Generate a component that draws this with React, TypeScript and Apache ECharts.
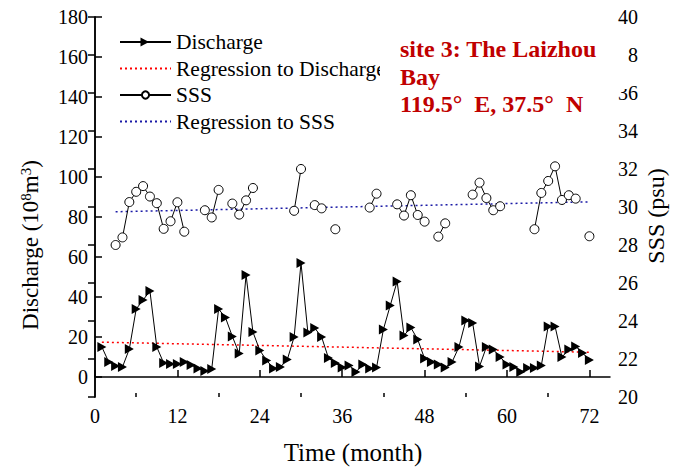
import React, { useEffect, useRef } from "react";
import * as echarts from "echarts";

const months = Array.from({ length: 72 }, (_, i) => i + 1);

const discharge = [
  15, 7.5, 5.5, 5, 14, 34, 38.5, 43, 15, 7, 6.5, 6.5, 7.5, 6, 4.2, 3, 4, 34,
  29.7, 20.3, 11.7, 51, 22.5, 13.3, 8.3, 4.3, 5, 8.7, 20, 57, 22.3, 24.5, 20,
  9.5, 7, 4.7, 5.8, 2.5, 6.3, 4.3, 4.7, 23.8, 35.8, 47.8, 20.8, 24.7, 18.7, 9.2,
  7.5, 6.3, 4.7, 7.5, 15, 28.3, 27, 5.3, 15, 13.7, 10, 6.2, 5, 2.5, 4.5, 4.5,
  5.8, 25.3, 25.3, 10, 13.7, 15.3, 12, 8.5,
];

const sss: (number | null)[] = [
  null, null, 28.0, 28.4, 30.26, 30.8, 31.1, 30.55, 30.2, 28.85, 29.25, 30.25,
  28.7, null, null, 29.83, 29.45, 30.9, null, 30.18, 29.6, 30.35, 31.0, null,
  null, null, null, null, 29.8, 32.0, null, 30.1, 29.93, null, 28.83, null,
  null, null, null, 29.97, 30.7, null, null, 30.14, 29.55, 30.62, 29.58, 29.23,
  null, 28.44, 29.14, null, null, null, 30.65, 31.28, 30.47, 29.83, 30.04, null,
  null, null, null, 28.83, 30.74, 31.37, 32.14, 30.37, 30.62, 30.44, null, 28.46,
];

const dischargeFit = [
  [1, 17.4],
  [72, 12.4],
];
const sssFit = [
  [3, 29.75],
  [72, 30.27],
];

const xTicks = [0, 12, 24, 36, 48, 60, 72];
const xMinorTicks = [6, 18, 30, 42, 54, 66];
const leftTicks = [0, 20, 40, 60, 80, 100, 120, 140, 160, 180];

const seriesNames = ["Discharge", "Regression to Discharge", "SSS", "Regression to SSS"];
const titleLines = ["site 3: The Laizhou", "Bay", "119.5°  E, 37.5°  N"];

const FAMILY = "Liberation Serif";
const RIGHT_TRIANGLE = "path://M0,0L9,5L0,10Z";

export default function App() {
  const ref = useRef<HTMLDivElement>(null);

  useEffect(() => {
    document.body.style.margin = "0";
    const chart = echarts.init(ref.current!, null, { renderer: "svg" });
    const axisColor = "#000";
    const lineW = 1.5;
    const labelStyle = {
      color: "#000",
      fontFamily: FAMILY,
      fontSize: 20,
    };

    // legend geometry (used for the triangle glyph inside the first legend icon)
    const legendLeft = 114;
    const legendTop = 26;
    const legendPad = 5;
    const legendItemW = 51;
    const legendRowH = 22;
    const triCx = legendLeft + legendPad + legendItemW / 2;
    const triCy = legendTop + legendPad + legendRowH / 2;

    const option: any = {
      animation: false,
      backgroundColor: "#fff",
      textStyle: { fontFamily: FAMILY, color: "#000" },
      grid: { left: 95, right: 67, top: 17, bottom: 71, containLabel: false },
      legend: {
        data: [
          { name: seriesNames[0], itemStyle: { opacity: 0 } },
          { name: seriesNames[1], itemStyle: { opacity: 0 } },
          { name: seriesNames[2] },
          { name: seriesNames[3], itemStyle: { opacity: 0 } },
        ],
        orient: "vertical",
        left: legendLeft,
        top: legendTop,
        padding: legendPad,
        itemWidth: legendItemW,
        itemHeight: 9,
        itemGap: 4.5,
        textStyle: { fontFamily: FAMILY, fontSize: 21.5, color: "#000", lineHeight: legendRowH },
        selectedMode: false,
      },
      xAxis: [
        {
          type: "value",
          min: 0,
          max: 75,
          axisLine: { show: true, lineStyle: { color: axisColor, width: lineW } },
          axisTick: {
            show: true,
            inside: true,
            length: 7,
            customValues: xTicks,
            lineStyle: { color: axisColor, width: lineW },
          },
          axisLabel: { ...labelStyle, customValues: xTicks, margin: 9 },
          splitLine: { show: false },
        },
        {
          type: "value",
          min: 0,
          max: 75,
          position: "bottom",
          axisLine: { show: false },
          axisTick: {
            show: true,
            inside: true,
            length: 4,
            customValues: xMinorTicks,
            lineStyle: { color: axisColor, width: lineW },
          },
          axisLabel: { show: false },
          splitLine: { show: false },
        },
      ],
      yAxis: [
        {
          type: "value",
          min: -10,
          max: 180,
          position: "left",
          axisLine: { show: true, lineStyle: { color: axisColor, width: lineW } },
          axisTick: {
            show: true,
            inside: true,
            length: 7,
            customValues: leftTicks,
            lineStyle: { color: axisColor, width: lineW },
          },
          axisLabel: { ...labelStyle, customValues: leftTicks, margin: 7 },
          splitLine: { show: false },
        },
        {
          type: "value",
          min: 20,
          max: 40,
          interval: 2,
          position: "right",
          axisLine: { show: true, lineStyle: { color: axisColor, width: lineW } },
          axisTick: {
            show: true,
            inside: true,
            length: 7,
            lineStyle: { color: axisColor, width: lineW },
          },
          axisLabel: { ...labelStyle, margin: 8 },
          splitLine: { show: false },
        },
      ],
      series: [
        {
          name: seriesNames[0],
          type: "line",
          xAxisIndex: 0,
          yAxisIndex: 0,
          data: months.map((m, i) => [m, discharge[i]]),
          symbol: RIGHT_TRIANGLE,
          symbolSize: [9, 10],
          itemStyle: { color: "#000" },
          lineStyle: { color: "#000", width: 1 },
          z: 3,
        },
        {
          name: seriesNames[1],
          type: "line",
          xAxisIndex: 0,
          yAxisIndex: 0,
          data: dischargeFit,
          symbol: "none",
          lineStyle: { color: "#ff0000", width: 1.5, type: [2, 3] },
          itemStyle: { color: "#ff0000" },
          z: 2,
        },
        {
          name: seriesNames[2],
          type: "line",
          xAxisIndex: 0,
          yAxisIndex: 1,
          data: months.map((m, i) => [m, sss[i] === null ? "-" : sss[i]]),
          connectNulls: false,
          symbol: "circle",
          symbolSize: 9,
          itemStyle: { color: "#fff", borderColor: "#000", borderWidth: 1 },
          lineStyle: { color: "#000", width: 1 },
          z: 3,
        },
        {
          name: seriesNames[3],
          type: "line",
          xAxisIndex: 0,
          yAxisIndex: 1,
          data: sssFit,
          symbol: "none",
          lineStyle: { color: "#1a1aa6", width: 1.5, type: [2, 3] },
          itemStyle: { color: "#1a1aa6" },
          z: 2,
        },
      ],
      graphic: [
        {
          type: "polygon",
          z: 50,
          shape: {
            points: [
              [triCx - 4, triCy - 4.5],
              [triCx + 4.5, triCy],
              [triCx - 4, triCy + 4.5],
            ],
          },
          style: { fill: "#000" },
        },
        {
          type: "rect",
          z: 100,
          shape: { x: 380, y: 25, width: 248, height: 64 },
          style: { fill: "#fff" },
        },
        ...titleLines.map((t, i) => ({
          type: "text",
          z: 101,
          x: 400,
          y: [49, 77, 104][i],
          style: {
            text: t,
            font: `bold 24px '${FAMILY}'`,
            fill: "#c00000",
            align: "left",
            verticalAlign: "middle",
          },
        })),
        {
          type: "text",
          z: 101,
          x: 353,
          y: 452,
          style: {
            text: "Time (month)",
            font: `25px '${FAMILY}'`,
            fill: "#000",
            align: "center",
            verticalAlign: "middle",
          },
        },
        {
          type: "text",
          z: 101,
          x: 30,
          y: 245,
          rotation: Math.PI / 2,
          style: {
            text: "{n|Discharge (10}{s|8}{n|m}{s|3}{n|)}",
            rich: {
              n: { fontFamily: FAMILY, fontSize: 23, fill: "#000" },
              s: { fontFamily: FAMILY, fontSize: 15, fill: "#000", verticalAlign: "top" },
            },
            align: "center",
            verticalAlign: "middle",
          },
        },
        {
          type: "text",
          z: 101,
          x: 656,
          y: 216,
          rotation: Math.PI / 2,
          style: {
            text: "SSS (psu)",
            font: `24px '${FAMILY}'`,
            fill: "#000",
            align: "center",
            verticalAlign: "middle",
          },
        },
      ],
    };

    chart.setOption(option);
    return () => chart.dispose();
  }, []);

  return (
    <div
      ref={ref}
      style={{ position: "fixed", left: 0, top: 0, width: 677, height: 468, background: "#fff" }}
    />
  );
}
